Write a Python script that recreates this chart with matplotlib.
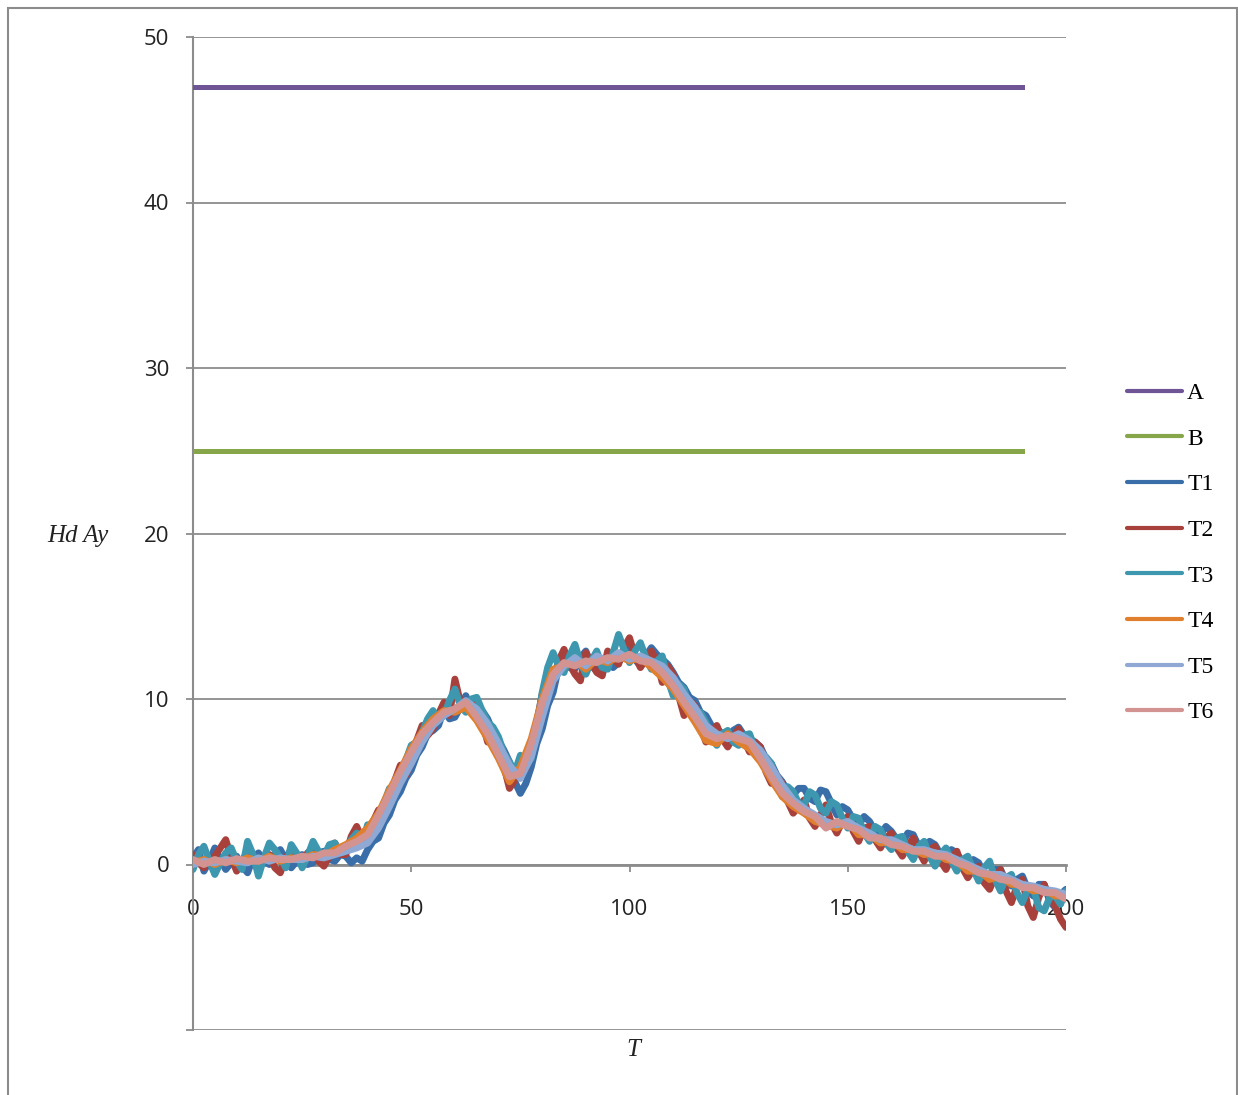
import numpy as np
import matplotlib
matplotlib.use("Agg")
import matplotlib.pyplot as plt
from matplotlib.patches import Rectangle

# Step 1: data
# the noisy runs (T1-T3) are read every 1.25, the smoother ones every 2.5
T_fine = np.arange(0, 200.01, 1.25)
T = np.arange(0, 200.01, 2.5)

A_t = [0, 190]
A_vals = [47, 47]
B_t = [0, 190]
B_vals = [25, 25]

T1 = [0.4, 0.9, -0.4, 0.2, 1.0, 0.3, -0.3, 0.1, 0.5, -0.1, -0.5, 0.4, 0.7, 0.2, 0.0, 0.6, 0.9, 0.3, -0.2, 0.2,
      0.6, 0.0, 0.1, 0.7, 0.8, 0.3, 0.2, 0.6, 0.5, 0.1, 0.4, 0.2, 0.9, 1.4, 1.6, 2.5, 3.0, 3.9, 4.4, 5.2,
      5.7, 6.6, 7.1, 7.9, 8.1, 8.4, 9.4, 8.8, 8.9, 9.5, 10.2, 9.4, 9.6, 9.3, 8.8, 8.0, 7.5, 6.9, 6.2, 5.0,
      4.3, 4.9, 5.9, 7.3, 8.2, 9.6, 10.4, 11.9, 12.8, 11.9, 11.8, 12.5, 12.9, 12.0, 11.7, 12.3, 12.6, 11.9, 12.2, 12.8,
      13.3, 12.4, 12.0, 12.6, 13.1, 12.7, 12.4, 12.1, 11.6, 11.0, 10.7, 10.1, 9.9, 9.2, 9.0, 8.4, 8.2, 7.9, 7.5, 8.1,
      8.3, 7.8, 7.6, 7.4, 7.1, 6.4, 6.1, 5.4, 5.0, 4.4, 4.2, 4.6, 4.6, 4.0, 3.8, 4.5, 4.4, 3.7, 3.0, 3.5,
      3.3, 2.7, 2.4, 2.9, 2.6, 2.0, 1.8, 2.3, 2.0, 1.5, 1.3, 1.9, 1.8, 1.1, 0.9, 1.4, 1.2, 0.6, 0.4, 0.9,
      0.7, 0.1, -0.2, 0.3, 0.1, -0.6, -0.8, -0.3, -0.3, -1.0, -1.3, -0.9, -0.7, -1.5, -1.9, -1.2, -1.2, -2.2, -2.6, -1.8,
      -1.5]

T2 = [0.6, 0.1, -0.2, 0.3, 0.5, 1.0, 1.5, 0.4, -0.4, 0.2, 0.8, 0.3, -0.1, 0.5, 0.6, -0.2, -0.5, 0.4, 0.9, 0.3,
      0.2, 0.7, 1.0, 0.2, -0.1, 0.5, 1.3, 0.6, 0.6, 1.7, 2.3, 1.5, 1.4, 2.6, 3.3, 2.9, 3.7, 5.1, 6.0, 5.4,
      6.2, 7.5, 8.4, 7.8, 8.2, 9.1, 9.8, 9.0, 11.2, 9.8, 9.3, 9.9, 9.7, 8.6, 7.4, 7.9, 7.3, 5.9, 4.6, 5.1,
      6.4, 5.8, 6.8, 8.6, 10.3, 10.6, 11.0, 12.3, 13.0, 12.1, 11.5, 11.1, 12.8, 12.2, 11.6, 11.4, 12.9, 12.4, 12.1, 13.1,
      13.7, 12.6, 11.9, 12.4, 12.9, 12.3, 11.0, 12.0, 11.5, 10.2, 9.0, 9.9, 9.6, 8.3, 7.4, 8.0, 8.4, 7.6, 7.1, 7.7,
      8.2, 7.5, 6.8, 7.4, 7.1, 5.6, 4.9, 5.3, 4.9, 3.8, 3.1, 3.5, 3.9, 2.8, 2.3, 3.0, 3.6, 2.5, 1.9, 2.6,
      2.9, 2.0, 1.4, 2.2, 2.3, 1.5, 1.0, 1.6, 1.9, 1.0, 0.5, 1.1, 1.6, 0.8, 0.2, 0.9, 1.1, 0.2, -0.3, 0.4,
      0.8, -0.2, -0.8, -0.3, -0.1, -1.1, -1.5, -0.7, -0.3, -1.6, -2.3, -1.3, -0.9, -2.5, -3.2, -2.0, -1.2, -2.1, -2.5, -3.3,
      -3.8]

T3 = [-0.3, 0.6, 1.1, 0.2, -0.6, 0.1, 0.7, 1.0, 0.2, -0.3, 1.4, 0.6, -0.7, 0.4, 1.3, 0.9, 0.4, -0.2, 1.2, 0.7,
      -0.2, 0.5, 1.4, 0.8, 0.5, 1.2, 1.3, 0.7, 0.8, 1.5, 1.9, 1.3, 2.4, 2.0, 2.6, 3.7, 4.6, 4.3, 5.2, 6.3,
      7.2, 7.4, 8.0, 8.8, 9.3, 8.7, 9.0, 9.9, 10.6, 9.6, 9.2, 10.0, 10.1, 9.3, 8.6, 8.3, 7.7, 6.7, 6.2, 5.6,
      6.6, 6.0, 6.4, 8.3, 10.4, 11.9, 12.8, 12.0, 11.6, 12.6, 13.3, 12.2, 11.5, 12.3, 12.9, 11.9, 11.8, 12.8, 13.9, 13.0,
      12.2, 12.9, 13.4, 12.5, 11.8, 12.3, 12.6, 11.2, 10.2, 10.9, 10.6, 9.5, 8.8, 9.2, 8.6, 7.7, 7.2, 7.9, 8.1, 7.4,
      7.2, 7.8, 7.9, 7.0, 6.3, 6.5, 6.1, 5.0, 4.1, 4.7, 4.4, 3.7, 3.6, 4.4, 4.2, 3.4, 3.1, 3.8, 3.6, 2.8,
      2.2, 2.9, 2.8, 1.9, 1.4, 2.3, 2.1, 1.3, 0.9, 1.6, 1.7, 0.8, 0.3, 1.1, 1.4, 0.5, -0.1, 0.6, 1.0, 0.2,
      -0.4, 0.3, 0.5, -0.3, -1.0, -0.2, 0.2, -0.9, -1.6, -0.8, -0.6, -1.7, -2.3, -1.5, -1.4, -2.6, -2.8, -2.0, -1.9, -2.4,
      -1.6]

T4 = [0.1, 0.3, 0.0, 0.3, 0.1, 0.4, 0.2, 0.5, 0.2, 0.4,
      0.3, 0.6, 0.5, 0.9, 1.2, 1.6, 2.2, 3.1, 4.5, 5.7,
      7.0, 8.0, 8.8, 9.3, 9.2, 9.5, 8.7, 7.6, 6.4, 5.0,
      5.9, 7.6, 10.0, 11.8, 12.0, 12.3, 11.8, 12.4, 12.2, 12.6,
      12.3, 12.5, 11.9, 11.3, 10.6, 9.6, 8.6, 7.5, 7.3, 7.9,
      7.4, 7.0, 6.2, 5.1, 4.1, 3.5, 3.1, 2.6, 2.4, 2.2,
      2.6, 1.8, 1.8, 1.3, 1.4, 0.9, 0.9, 0.6, 0.7, 0.3,
      0.2, -0.4, -0.4, -0.9, -0.7, -1.2, -1.2, -1.6, -1.5, -1.9,
      -1.9]

T5 = [0.0, 0.2, 0.1, 0.3, 0.2, 0.1, 0.4, 0.2, 0.4, 0.3,
      0.3, 0.5, 0.4, 0.6, 0.8, 1.0, 1.3, 2.2, 3.5, 4.9,
      6.1, 7.4, 8.4, 9.0, 9.4, 9.9, 9.4, 8.5, 7.3, 6.0,
      5.2, 6.5, 8.9, 11.1, 12.0, 12.5, 12.0, 12.6, 12.3, 12.8,
      12.4, 12.6, 12.3, 12.0, 11.3, 10.3, 9.5, 8.4, 7.9, 7.6,
      7.9, 7.5, 6.9, 5.9, 4.8, 3.9, 3.4, 3.0, 2.6, 2.4,
      2.6, 2.2, 1.9, 1.5, 1.5, 1.2, 0.9, 0.9, 0.7, 0.6,
      0.3, 0.0, -0.3, -0.6, -0.6, -0.9, -1.2, -1.3, -1.5, -1.6,
      -1.8]

T6 = [0.3, 0.0, 0.3, 0.1, 0.35, 0.2, 0.2, 0.4, 0.3, 0.3,
      0.5, 0.4, 0.7, 0.7, 1.1, 1.4, 1.8, 3.0, 4.3, 5.6,
      6.8, 7.9, 8.6, 9.2, 9.4, 9.8, 8.9, 7.9, 6.6, 5.3,
      5.5, 7.3, 9.8, 11.5, 12.2, 12.0, 12.3, 12.2, 12.5, 12.4,
      12.7, 12.3, 12.2, 11.6, 10.8, 9.8, 8.9, 7.9, 7.6, 7.8,
      7.6, 7.4, 6.4, 5.3, 4.3, 3.7, 3.2, 2.9, 2.2, 2.6,
      2.3, 2.1, 1.6, 1.6, 1.2, 1.1, 0.8, 0.8, 0.5, 0.5,
      0.1, -0.1, -0.5, -0.6, -0.9, -1.0, -1.4, -1.4, -1.7, -1.7,
      -2.1]

series = [("T1", T_fine, T1), ("T2", T_fine, T2), ("T3", T_fine, T3),
          ("T4", T, T4), ("T5", T, T5), ("T6", T, T6)]
colors = {"A": "#6f5596", "B": "#87a64a", "T1": "#3a6ea8", "T2": "#a8403c",
          "T3": "#3d97ae", "T4": "#e0802e", "T5": "#8fa8d4", "T6": "#d39391"}

x_ticks = [0, 50, 100, 150, 200]
y_ticks = [-10, 0, 10, 20, 30, 40, 50]
y_labels = ["", "0", "10", "20", "30", "40", "50"]

# Step 2: figure and axes
W, H = 1238, 1095
fig = plt.figure(figsize=(W / 100, H / 100), dpi=100)
ax = fig.add_axes([193 / W, 1 - 1030 / H, (1066 - 193) / W, (1030 - 37) / H])

grey = "#8c8c8c"
ax.plot(A_t, A_vals, color=colors["A"], lw=3.6, label="A", zorder=3)
ax.plot(B_t, B_vals, color=colors["B"], lw=3.6, label="B", zorder=3)
for name, tt, vals in series:
    ax.plot(tt, vals, color=colors[name], lw=5.0, label=name, zorder=3,
            solid_capstyle="round", solid_joinstyle="round")

ax.set_xlim(0, 200)
ax.set_ylim(-10, 50)

# Step 3: axes styling (Excel look)
ax.set_yticks(y_ticks)
ax.set_yticklabels(y_labels)
ax.set_xticks(x_ticks)
ax.yaxis.grid(True, color=grey, lw=1.3)
ax.set_axisbelow(True)
for s in ["top", "right"]:
    ax.spines[s].set_visible(False)
ax.spines["left"].set_color(grey)
ax.spines["left"].set_linewidth(1.5)
ax.spines["bottom"].set_position(("data", 0))
ax.spines["bottom"].set_color(grey)
ax.spines["bottom"].set_linewidth(2)

ax.tick_params(axis="y", length=5, width=1.3, color=grey, pad=12)
ax.tick_params(axis="x", length=5, width=1.3, color=grey, pad=20)
for lab in ax.get_xticklabels() + ax.get_yticklabels():
    lab.set_fontfamily("Open Sans")
    lab.set_fontsize(16)
    lab.set_color("#222222")

fig.text(78 / W, 1 - 536 / H, "Hd Ay", family="Liberation Serif", style="italic",
         size=18, ha="center", va="center", color="#222222")
fig.text(633 / W, 1 - 1050 / H, "T", family="Liberation Serif", style="italic",
         size=18, ha="center", va="center", color="#222222")

leg = fig.legend(loc="center left", bbox_to_anchor=(1127 / W, 1 - 553 / H),
                 frameon=False, prop={"family": "Liberation Serif", "size": 17},
                 handlelength=2.35, handletextpad=0.2, labelspacing=1.02,
                 borderaxespad=0, borderpad=0)
for h in leg.get_lines():
    h.set_linewidth(3)
    h.set_solid_capstyle("round")

# outer chart border
fig.patches.append(Rectangle((8 / W, -0.01), (1237 - 8) / W, 1 - 8 / H + 0.01,
                             transform=fig.transFigure, fill=False,
                             edgecolor=grey, lw=1.5))

fig.savefig("out.png", dpi=100)
